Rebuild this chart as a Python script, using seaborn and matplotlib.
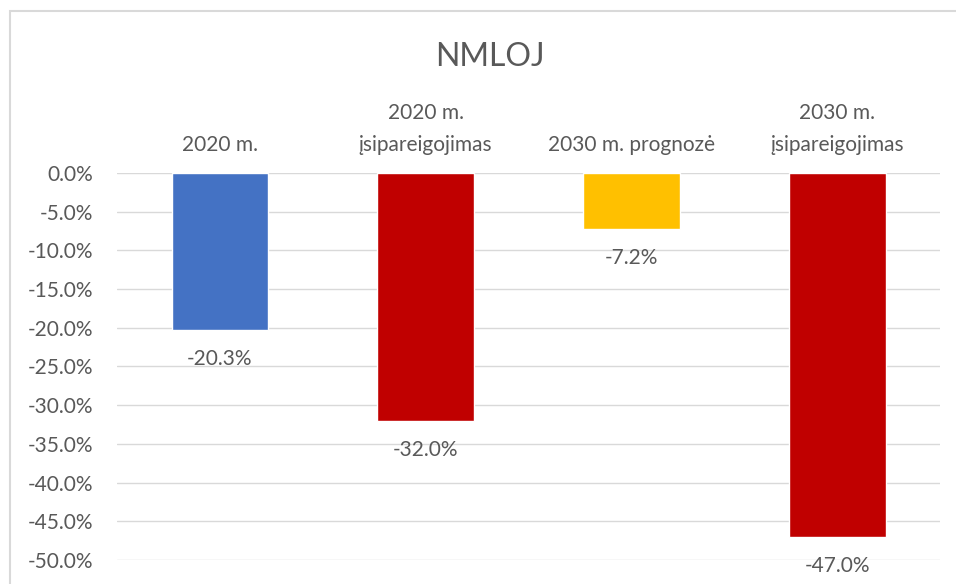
import matplotlib
matplotlib.use("Agg")
import matplotlib.pyplot as plt
import seaborn as sns
import pandas as pd
from matplotlib.patches import Rectangle
from matplotlib.ticker import FuncFormatter

# data
categories = ["2020 m.", "2020 m.\nįsipareigojimas", "2030 m. prognozė", "2030 m.\nįsipareigojimas"]
values = [-20.3, -32.0, -7.2, -47.0]
bar_colors = ["#4472C4", "#C00000", "#FFC000", "#C00000"]
y_ticks = [0, -5, -10, -15, -20, -25, -30, -35, -40, -45, -50]

df = pd.DataFrame({"cat": categories, "val": values})

sns.set_theme(style="white")
plt.rcParams["font.family"] = ["Lato", "DejaVu Sans"]
txt = "#595959"

fig = plt.figure(figsize=(9.56, 5.84), dpi=100)
ax = fig.add_axes([0.1224, 0.0411, 0.8609, 0.6627])

sns.barplot(data=df, x="cat", y="val", hue="cat", palette=bar_colors,
            width=0.47, legend=False, ax=ax, saturation=1)

ax.set_ylim(-50, 0)
ax.set_yticks(y_ticks)
ax.yaxis.set_major_formatter(FuncFormatter(lambda v, p: f"{v:.1f}%"))
ax.grid(axis="y", color="#D9D9D9", linewidth=1)
ax.set_axisbelow(True)
ax.xaxis.tick_top()
ax.tick_params(axis="x", length=0, pad=13, labelsize=15, labelcolor=txt)
ax.tick_params(axis="y", length=0, pad=17, labelsize=15, labelcolor=txt)
for lab in ax.get_xticklabels():
    lab.set_linespacing(1.75)
ax.set_xlabel("")
ax.set_ylabel("")
for s in ax.spines.values():
    s.set_visible(False)

# data labels below each bar
for i, v in enumerate(values):
    ax.annotate(f"{v:.1f}%", (i, v), xytext=(0, -21), textcoords="offset points",
                ha="center", va="center", fontsize=15, color=txt, annotation_clip=False)

fig.text(0.512, 0.902, "NMLOJ", ha="center", va="center", fontsize=23, color=txt)

# chart area border
fig.patches.append(Rectangle((10 / 956, -0.1), 1.1, 1.1 - 11 / 584, transform=fig.transFigure,
                             fill=False, edgecolor="#D9D9D9", linewidth=1.5))

fig.savefig("out.png", dpi=100)
